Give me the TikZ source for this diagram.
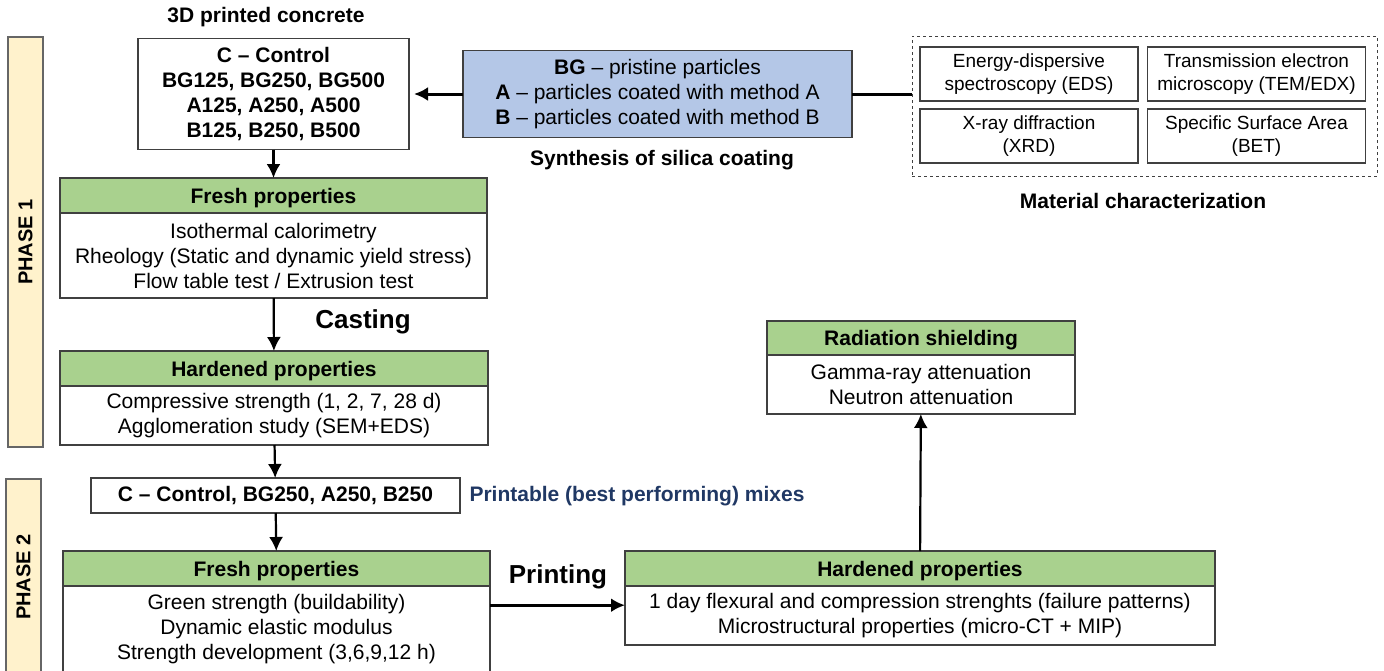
\documentclass[tikz,border=0pt]{standalone}
\usepackage{fontspec}
\setmainfont{Liberation Sans}
\usetikzlibrary{positioning, arrows.meta}

\definecolor{hdrgreen}{HTML}{A9D18E}
\definecolor{synblue}{HTML}{B4C7E7}
\definecolor{phasecream}{HTML}{FFF2CC}
\definecolor{mixnavy}{HTML}{203864}
\definecolor{boxgray}{HTML}{404040}

\tikzset{
  hdr/.style={draw=boxgray, line width=1.3pt, fill=hdrgreen, inner sep=0pt, outer sep=0pt,
    minimum height=35pt, text height=15pt, text depth=0pt, font=\fontsize{21}{25}\selectfont\bfseries},
  bdy/.style={draw=boxgray, line width=1.3pt, fill=white, inner sep=0pt, outer sep=0pt,
    align=center, font=\fontsize{21}{25}\selectfont},
  mixlist/.style={bdy, font=\fontsize{21}{25}\selectfont\bfseries},
  charbox/.style={bdy, minimum width=218pt, minimum height=54pt, font=\fontsize{19}{23}\selectfont},
  phasebar/.style={draw=boxgray!80, line width=1.3pt, fill=phasecream, rotate=90,
    minimum height=35pt, inner sep=0pt, font=\fontsize{20}{24}\selectfont\bfseries},
  lbl/.style={inner sep=0pt, font=\fontsize{21}{25}\selectfont\bfseries},
  biglbl/.style={inner sep=0pt, font=\fontsize{26}{30}\selectfont\bfseries},
  arr/.style={-{Latex[length=14pt,width=14pt]}, line width=2.2pt}
}

\begin{document}
\begin{tikzpicture}[x=1pt, y=-1pt]
  \useasboundingbox (0,0) rectangle (1384,670);

  % phases
  \node[phasebar, minimum width=410pt] (P1) at (25.5,242) {PHASE 1};
  \node[phasebar, minimum width=196pt] (P2) at (23.5,577) {PHASE 2};

  % 3D printed concrete mixes
  \node[mixlist, minimum width=271pt, minimum height=111pt] (C) at (273.5,94)
    {C -- Control\\BG125, BG250, BG500\\A125, A250, A500\\B125, B250, B500};
  \node[lbl] (tC) at (266,17) {3D printed concrete};

  % silica coating
  \node[bdy, fill=synblue, minimum width=389pt, minimum height=87pt] (SB) at (657.5,94)
    {{\bfseries BG} -- pristine particles\\{\bfseries A} -- particles coated with method A\\{\bfseries B} -- particles coated with method B};
  \node[lbl] (tSB) at (662,160) {Synthesis of silica coating};

  % material characterization
  \node[draw=boxgray, dashed, line width=0.8pt, minimum width=465pt, minimum height=140pt,
    inner sep=0pt, outer sep=0pt] (MC) at (1144.5,106) {};
  \node[charbox] (EDS) at (1029,74) {Energy-dispersive\\spectroscopy (EDS)};
  \node[charbox] (TEM) at (1256.5,74) {Transmission electron\\microscopy (TEM/EDX)};
  \node[charbox] (XRD) at (1029,136) {X-ray diffraction\\(XRD)};
  \node[charbox] (BET) at (1256.5,136) {Specific Surface Area\\(BET)};
  \node[lbl] (tMC) at (1143,201) {Material characterization};

  % phase 1
  \node[hdr, minimum width=427pt] (F1h) at (273.5,195.5) {Fresh properties};
  \node[bdy, minimum width=427pt, minimum height=85pt, below=0pt of F1h] (F1b)
    {Isothermal calorimetry\\Rheology (Static and dynamic yield stress)\\Flow table test / Extrusion test};
  \node[biglbl] (cast) at (363,322) {Casting};
  \node[hdr, minimum width=428pt] (H1h) at (274,368.5) {Hardened properties};
  \node[bdy, minimum width=428pt, minimum height=59pt, below=0pt of H1h] (H1b)
    {Compressive strength (1, 2, 7, 28 d)\\Agglomeration study (SEM+EDS)};

  % phase 2
  \node[mixlist, minimum width=369pt, minimum height=35pt] (M) at (275.5,495.5)
    {C -- Control, BG250, A250, B250};
  \node[lbl, text=mixnavy] (tM) at (637,496) {Printable (best performing) mixes};
  \node[hdr, minimum width=427pt] (F2h) at (276.5,568.5) {Fresh properties};
  \node[bdy, minimum width=427pt, minimum height=86pt, below=0pt of F2h] (F2b)
    {Green strength (buildability)\\Dynamic elastic modulus\\Strength development (3,6,9,12 h)};
  \node[biglbl] (print) at (558,577) {Printing};
  \node[hdr, minimum width=590pt] (H2h) at (920,568.5) {Hardened properties};
  \node[bdy, minimum width=590pt, minimum height=59pt, below=0pt of H2h] (H2b)
    {1 day flexural and compression strenghts (failure patterns)\\Microstructural properties (micro-CT + MIP)};
  \node[hdr, minimum width=308pt, minimum height=34pt] (RSh) at (921,338) {Radiation shielding};
  \node[bdy, minimum width=308pt, minimum height=59pt, below=0pt of RSh] (RSb)
    {Gamma-ray attenuation\\Neutron attenuation};

  \path[arr]
    (C) edge (F1h)
    (F1b) edge (H1h)
    (H1b) edge (M)
    (M) edge (F2h)
    (H2h) edge (RSb);
  \draw[arr, line width=3pt, shorten >=5pt] (SB) -- (C);
  \draw[line width=3pt] (SB.east) -- (SB.east -| MC.west);
  \draw[arr, line width=3pt] (F2b.east |- H2b.178) -- (H2b.178);
\end{tikzpicture}
\end{document}
